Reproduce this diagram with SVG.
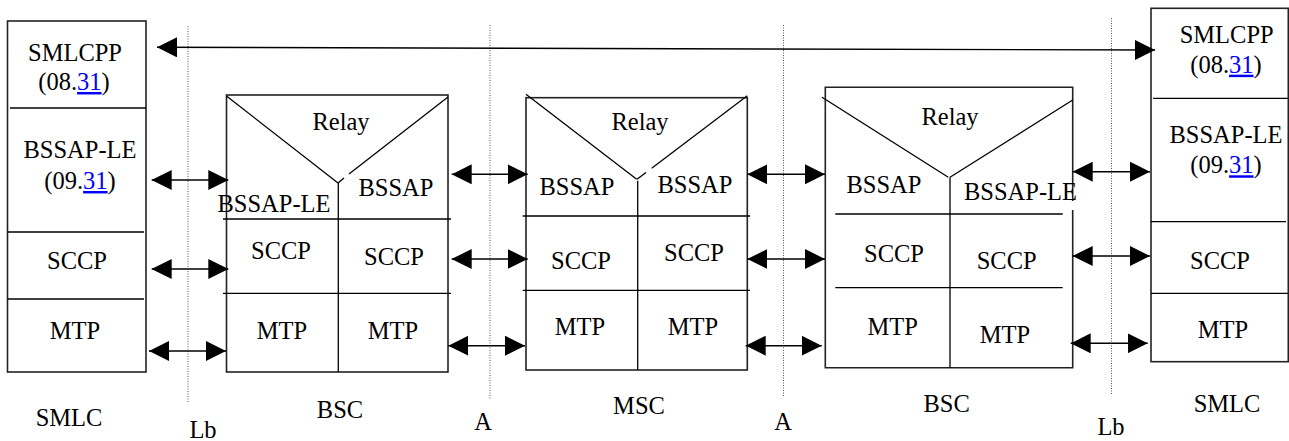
<svg xmlns="http://www.w3.org/2000/svg" width="1289" height="441" viewBox="0 0 1289 441">
<defs>
<style>
text{font-family:"Liberation Serif","Times New Roman",serif;font-size:24.5px;fill:#000;text-anchor:middle}
.box{fill:none;stroke:#222;stroke-width:1.6}
.ln{fill:none;stroke:#000;stroke-width:1.3}
.dot{fill:none;stroke:#555;stroke-width:1;stroke-dasharray:1 1.5}
.arr{fill:none;stroke:#000;stroke-width:1.4;marker-start:url(#ah);marker-end:url(#ah)}
.lk{fill:#0000ff;text-decoration:underline}
</style>
<marker id="ah" viewBox="0 0 20 20" refX="20" refY="10" markerWidth="20" markerHeight="20" markerUnits="userSpaceOnUse" orient="auto-start-reverse">
<path d="M0,0 L20,10 L0,20 z" fill="#000"/>
</marker>
</defs>
<rect width="1289" height="441" fill="#fff"/>

<g id="interfaces">
<line class="dot" x1="188" y1="26" x2="188" y2="402"/>
<line class="dot" x1="490" y1="25" x2="490" y2="400"/>
<line class="dot" x1="783.5" y1="25" x2="783.5" y2="397"/>
<line class="dot" x1="1111.5" y1="18" x2="1111.5" y2="394"/>
<text x="203" y="438">Lb</text>
<text x="483" y="430">A</text>
<text x="783" y="430">A</text>
<text x="1111" y="435">Lb</text>
</g>

<g id="smlc-left">
<rect class="box" x="7.5" y="21" width="138.5" height="351"/>
<line class="ln" x1="10" y1="108" x2="146" y2="108"/>
<line class="ln" x1="7.5" y1="232" x2="144" y2="232"/>
<line class="ln" x1="7.5" y1="299" x2="144" y2="299"/>
<text x="75" y="61">SMLCPP</text>
<text x="74" y="90">(08.<tspan class="lk">31</tspan>)</text>
<text x="80" y="158">BSSAP-LE</text>
<text x="80" y="189">(09.<tspan class="lk">31</tspan>)</text>
<text x="77" y="269">SCCP</text>
<text x="75" y="339">MTP</text>
<text x="69" y="426">SMLC</text>
</g>

<g id="bsc-left">
<rect class="box" x="226.5" y="95" width="221.5" height="277"/>
<line class="ln" x1="226.5" y1="96" x2="338" y2="183"/>
<line class="ln" x1="448" y1="97" x2="349" y2="174"/>
<line class="ln" x1="344" y1="178" x2="338" y2="183"/>
<line class="ln" x1="338.3" y1="183" x2="338.3" y2="372"/>
<line class="ln" x1="223" y1="219" x2="451" y2="219"/>
<line class="ln" x1="223" y1="293.3" x2="451" y2="293.3"/>
<text x="341" y="130">Relay</text>
<text x="274" y="212">BSSAP-LE</text>
<text x="396" y="195.5">BSSAP</text>
<text x="281" y="259">SCCP</text>
<text x="394" y="265">SCCP</text>
<text x="282" y="339">MTP</text>
<text x="393" y="339">MTP</text>
<text x="340" y="418">BSC</text>
</g>

<g id="msc">
<rect class="box" x="526" y="97.7" width="221.3" height="272.3"/>
<line class="ln" x1="526" y1="94.3" x2="636.7" y2="179.3"/>
<line class="ln" x1="747.3" y1="95.7" x2="651.7" y2="168.3"/>
<line class="ln" x1="646" y1="172.5" x2="637" y2="179.3"/>
<line class="ln" x1="637.7" y1="180.7" x2="637.7" y2="370"/>
<line class="ln" x1="522.7" y1="216" x2="750" y2="216"/>
<line class="ln" x1="522.7" y1="290.3" x2="750" y2="290.3"/>
<text x="640" y="130">Relay</text>
<text x="577" y="195">BSSAP</text>
<text x="695" y="193.3">BSSAP</text>
<text x="581" y="269.3">SCCP</text>
<text x="694" y="261">SCCP</text>
<text x="580" y="335">MTP</text>
<text x="693" y="335">MTP</text>
<text x="639" y="414">MSC</text>
</g>

<g id="bsc-right">
<path class="box" d="M1072.7,201 V87.3 H825.3 V367.7 H1072.7 V210"/>
<line class="ln" x1="822" y1="97.3" x2="948.3" y2="177.3"/>
<line class="ln" x1="1072.7" y1="100" x2="950" y2="177.3"/>
<line class="ln" x1="950" y1="177.3" x2="950" y2="367.7"/>
<line class="ln" x1="835.3" y1="214" x2="1062.7" y2="214"/>
<line class="ln" x1="835.3" y1="287.7" x2="1062.7" y2="287.7"/>
<text x="950" y="125">Relay</text>
<text x="884" y="193">BSSAP</text>
<text x="1020.5" y="200">BSSAP-LE</text>
<text x="894" y="261.7">SCCP</text>
<text x="1006.7" y="269.3">SCCP</text>
<text x="892.7" y="335">MTP</text>
<text x="1005" y="343.3">MTP</text>
<text x="946.7" y="412">BSC</text>
</g>

<g id="smlc-right">
<rect class="box" x="1151" y="8.3" width="137.3" height="353.4"/>
<line class="ln" x1="1153" y1="98.3" x2="1288" y2="98.3"/>
<line class="ln" x1="1151" y1="221.7" x2="1286" y2="221.7"/>
<line class="ln" x1="1151" y1="293.3" x2="1288" y2="293.3"/>
<text x="1226.7" y="42.7">SMLCPP</text>
<text x="1226" y="72.7">(08.<tspan class="lk">31</tspan>)</text>
<text x="1226" y="142.7">BSSAP-LE</text>
<text x="1226" y="173.3">(09.<tspan class="lk">31</tspan>)</text>
<text x="1220" y="269.3">SCCP</text>
<text x="1223" y="338.3">MTP</text>
<text x="1227" y="412">SMLC</text>
</g>

<g id="connectors">
<line class="arr" x1="157" y1="47.3" x2="1155" y2="50"/>
<line class="arr" x1="151.7" y1="180" x2="228.3" y2="180"/>
<line class="arr" x1="151.7" y1="269" x2="228.3" y2="269"/>
<line class="arr" x1="149" y1="351" x2="226" y2="351"/>
<line class="arr" x1="451.7" y1="174.3" x2="527.7" y2="174.3"/>
<line class="arr" x1="451.7" y1="259" x2="527.7" y2="259"/>
<line class="arr" x1="448.3" y1="345.7" x2="525" y2="345.7"/>
<line class="arr" x1="747.3" y1="174.3" x2="825" y2="174.3"/>
<line class="arr" x1="747.3" y1="259" x2="825" y2="259"/>
<line class="arr" x1="745.7" y1="345.7" x2="821.7" y2="345.7"/>
<line class="arr" x1="1072.7" y1="171.7" x2="1150" y2="171.7"/>
<line class="arr" x1="1072.7" y1="256" x2="1150" y2="256"/>
<line class="arr" x1="1070.7" y1="343.3" x2="1147.7" y2="343.3"/>
</g>
</svg>
